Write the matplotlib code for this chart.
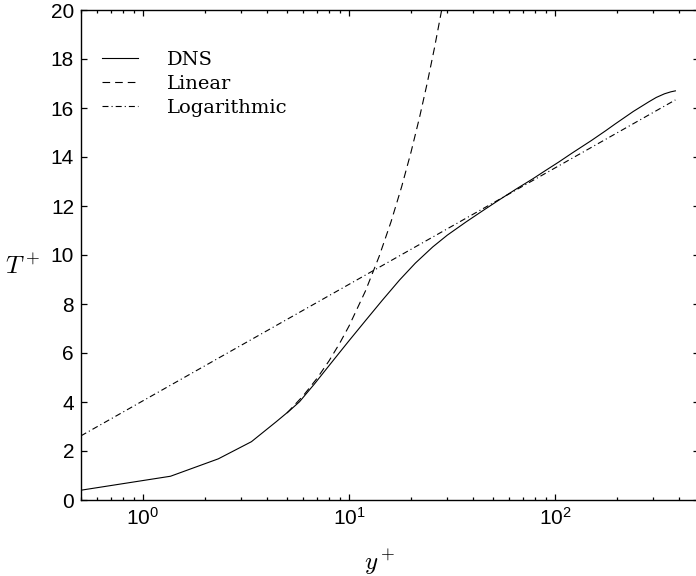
import matplotlib
matplotlib.use("Agg")
import matplotlib.pyplot as plt
from matplotlib.ticker import LogLocator, NullLocator

plt.rcParams['font.family'] = ['Liberation Sans', 'DejaVu Sans']
plt.rcParams['lines.scale_dashes'] = False

# DNS profile
dns_y = [0.5, 1.36, 2.32, 3.36, 4.44, 5.15, 5.75, 6.8, 8.35, 10.0, 12.1, 14.5,
         17.6, 21.0, 25.5, 30.0, 37.0, 45.0, 53.6, 65.0, 77.7, 90.0, 104.5,
         121, 150, 176, 196, 240, 285, 310, 340, 365, 384]
dns_T = [0.40, 0.97, 1.68, 2.38, 3.20, 3.65, 4.01, 4.74, 5.68, 6.50, 7.35, 8.15,
         8.98, 9.67, 10.33, 10.81, 11.35, 11.83, 12.25, 12.70, 13.10, 13.45, 13.80,
         14.16, 14.67, 15.07, 15.35, 15.86, 16.25, 16.43, 16.58, 16.66, 16.70]

# Linear law points
lin_y = [5, 6, 7, 8, 9, 10, 12, 14, 16, 18, 20, 22, 24, 26, 28.2]
lin_T = [3.55, 4.26, 4.97, 5.68, 6.39, 7.10, 8.52, 9.94, 11.36, 12.78, 14.20,
         15.62, 17.04, 18.46, 20.02]

# Logarithmic law end points (straight on a log axis)
log_y = [0.5, 384]
log_T = [2.62, 16.33]

labels = ['DNS', 'Linear', 'Logarithmic']

fig = plt.figure(figsize=(6.96, 5.76), dpi=100)
ax = fig.add_axes([81 / 696, 76 / 576, 618 / 696, 490 / 576])

lw = 0.8
ax.plot(dns_y, dns_T, color='black', lw=lw, label=labels[0])
ax.plot(lin_y, lin_T, color='black', lw=lw, dashes=(5.5, 3.6), label=labels[1])
ax.plot(log_y, log_T, color='black', lw=lw, dashes=(4.3, 2.2, 0.8, 2.2), label=labels[2])

ax.set_xscale('log')
ax.set_xlim(0.5, 500)
ax.set_ylim(0, 20)
ax.set_yticks(range(0, 21, 2))
ax.yaxis.set_minor_locator(NullLocator())
ax.xaxis.set_major_locator(LogLocator(base=10, numticks=10))
ax.xaxis.set_minor_locator(LogLocator(base=10, subs=range(2, 10), numticks=20))

ax.tick_params(which='both', direction='in', top=True, right=True, width=0.9,
               labelsize=15, pad=5)
ax.tick_params(which='major', length=4.5)
ax.tick_params(which='minor', length=2.5)
for s in ax.spines.values():
    s.set_linewidth(1.0)

ax.set_xlabel('$y^+$', fontsize=18, math_fontfamily='cm')
ax.set_ylabel('$T^+$', fontsize=18, math_fontfamily='cm', rotation=0)
ax.xaxis.set_label_coords(0.484, -0.097)
ax.yaxis.set_label_coords(-0.095, 0.452)

leg = ax.legend(loc='upper left', bbox_to_anchor=(0.034, 0.916), frameon=False,
                prop={'family': 'DejaVu Serif', 'size': 14},
                handlelength=1.85, handletextpad=1.5, labelspacing=0.3,
                borderpad=0, borderaxespad=0)

fig.savefig('out.png', dpi=100)
